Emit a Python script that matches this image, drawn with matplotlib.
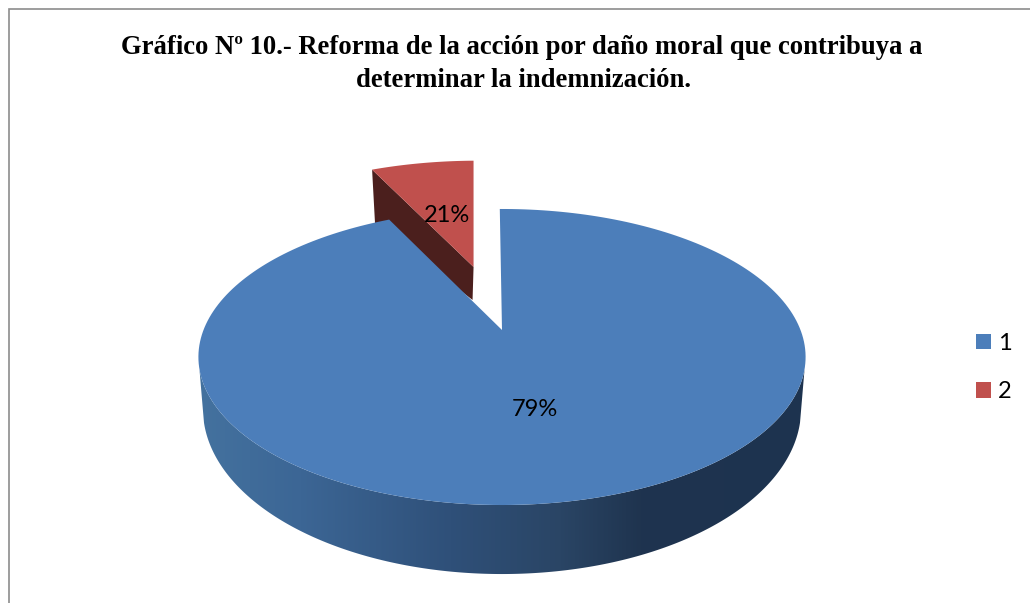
import numpy as np
import matplotlib
matplotlib.use("Agg")
import matplotlib.pyplot as plt
from matplotlib.patches import Polygon, Patch

# what the chart says
title_lines = ["Gráfico Nº 10.- Reforma de la acción por daño moral que contribuya a",
               "determinar la indemnización."]
categories = ["1", "2"]
percent_labels = ["79%", "21%"]
# the slices as they are drawn in the picture (degrees), not what the labels say
slice_degrees = [334.4, 24.5]

# colours
blue = "#4c7eba"
red = "#c0504d"
dark_red = "#4b1f1d"
border = "#8c8c8c"
side_x = [199, 300, 450, 560, 640, 806]
side_colors = ["#44729f", "#3c6695", "#2f5079", "#2a4565", "#1f344f", "#1d3350"]

# the 3d look: the disc is tilted so it goes through a projective map
CX, CY, AX, C, B = 502.0, 330.0, 298.5, 0.1824, -82.9
LOW_CY, TOP_CY, LOW_K = 409.0, 357.0, 1.115


def project(u, v):
    w = 1 + C * v
    return CX + AX * u / w, (CY + B * v) / w


def lower(x, y):
    return CX + (x - CX) * 0.985, LOW_CY + (y - TOP_CY) * LOW_K


def sector(start, end, du=0.0, dv=0.0, radius=1.0):
    # angles in degrees, clockwise from the top of the pie
    a = np.radians(np.linspace(start, end, 240))
    u = np.concatenate([[du], du + radius * np.sin(a)])
    v = np.concatenate([[dv], dv + radius * np.cos(a)])
    return project(u, v)


fig = plt.figure(figsize=(10.3, 6.03), dpi=100)
ax = fig.add_axes([0, 0, 1, 1])
ax.set_xlim(0, 1030)
ax.set_ylim(603, 0)
ax.axis("off")

# chart frame, only left and top show
ax.plot([8.5, 8.5, 1030], [603, 8.5, 8.5], color=border, lw=1.2, solid_joinstyle="miter")

# title
ax.text(522, 47.5, title_lines[0], family="Liberation Serif", weight="bold", fontsize=19.2,
        ha="center", va="center", color="black")
ax.text(524, 80.5, title_lines[1], family="Liberation Serif", weight="bold", fontsize=19.2,
        ha="center", va="center", color="black")

# blue side with its gradient
t = np.radians(np.linspace(0, 360, 720))
top_x, top_y = project(np.sin(t), np.cos(t))
low_x, low_y = lower(top_x, top_y)
front = np.argsort(top_x)
front = front[top_y[front] > TOP_CY + 12]
side_pts = np.column_stack([
    np.concatenate([low_x[front], top_x[front][::-1]]),
    np.concatenate([low_y[front], top_y[front][::-1]]),
])
side = Polygon(side_pts, closed=True, facecolor="none", edgecolor="none")
ax.add_patch(side)
xs = np.arange(190, 815)
rgb = np.array([matplotlib.colors.to_rgb(c) for c in side_colors])
grad = np.column_stack([np.interp(xs, side_x, rgb[:, i]) for i in range(3)])[None, :, :]
im = ax.imshow(grad, extent=(190, 815, 590, 340), aspect="auto", zorder=1)
im.set_clip_path(side)
ax.set_xlim(0, 1030)
ax.set_ylim(603, 0)

# red slice, pulled out of the pie
red_du, red_dv = -0.1036, 0.479
rx, ry = sector(-1 - slice_degrees[1], -1, red_du, red_dv, radius=1.03)
ax.add_patch(Polygon(np.column_stack([
    [rx[0], rx[1], rx[1] + 3, rx[0] - 1],
    [ry[0], ry[1], ry[1] + 55, ry[0] + 33],
]), closed=True, facecolor=dark_red, edgecolor="none", zorder=2))
ax.add_patch(Polygon(np.column_stack([rx, ry]), closed=True, facecolor=red, edgecolor="none", zorder=3))

# blue top
bx, by = sector(-0.5, slice_degrees[0] - 0.5)
ax.add_patch(Polygon(np.column_stack([bx, by]), closed=True, facecolor=blue, edgecolor="none", zorder=4))

# percent labels
ax.text(534.5, 409.5, percent_labels[0], family="Lato", fontsize=17, ha="center", va="center", zorder=5)
ax.text(447, 215.5, percent_labels[1], family="Lato", fontsize=17, ha="center", va="center", zorder=5)

# legend
handles = [Patch(facecolor=blue, edgecolor="none"), Patch(facecolor=red, edgecolor="none")]
ax.legend(handles, categories, loc="center left", bbox_to_anchor=(955, 367.5),
          bbox_transform=ax.transData, frameon=False, prop={"family": "Lato", "size": 17},
          handlelength=0.635, handleheight=0.635, handletextpad=0.27, labelspacing=1.15)

fig.savefig("out.png", dpi=100)
